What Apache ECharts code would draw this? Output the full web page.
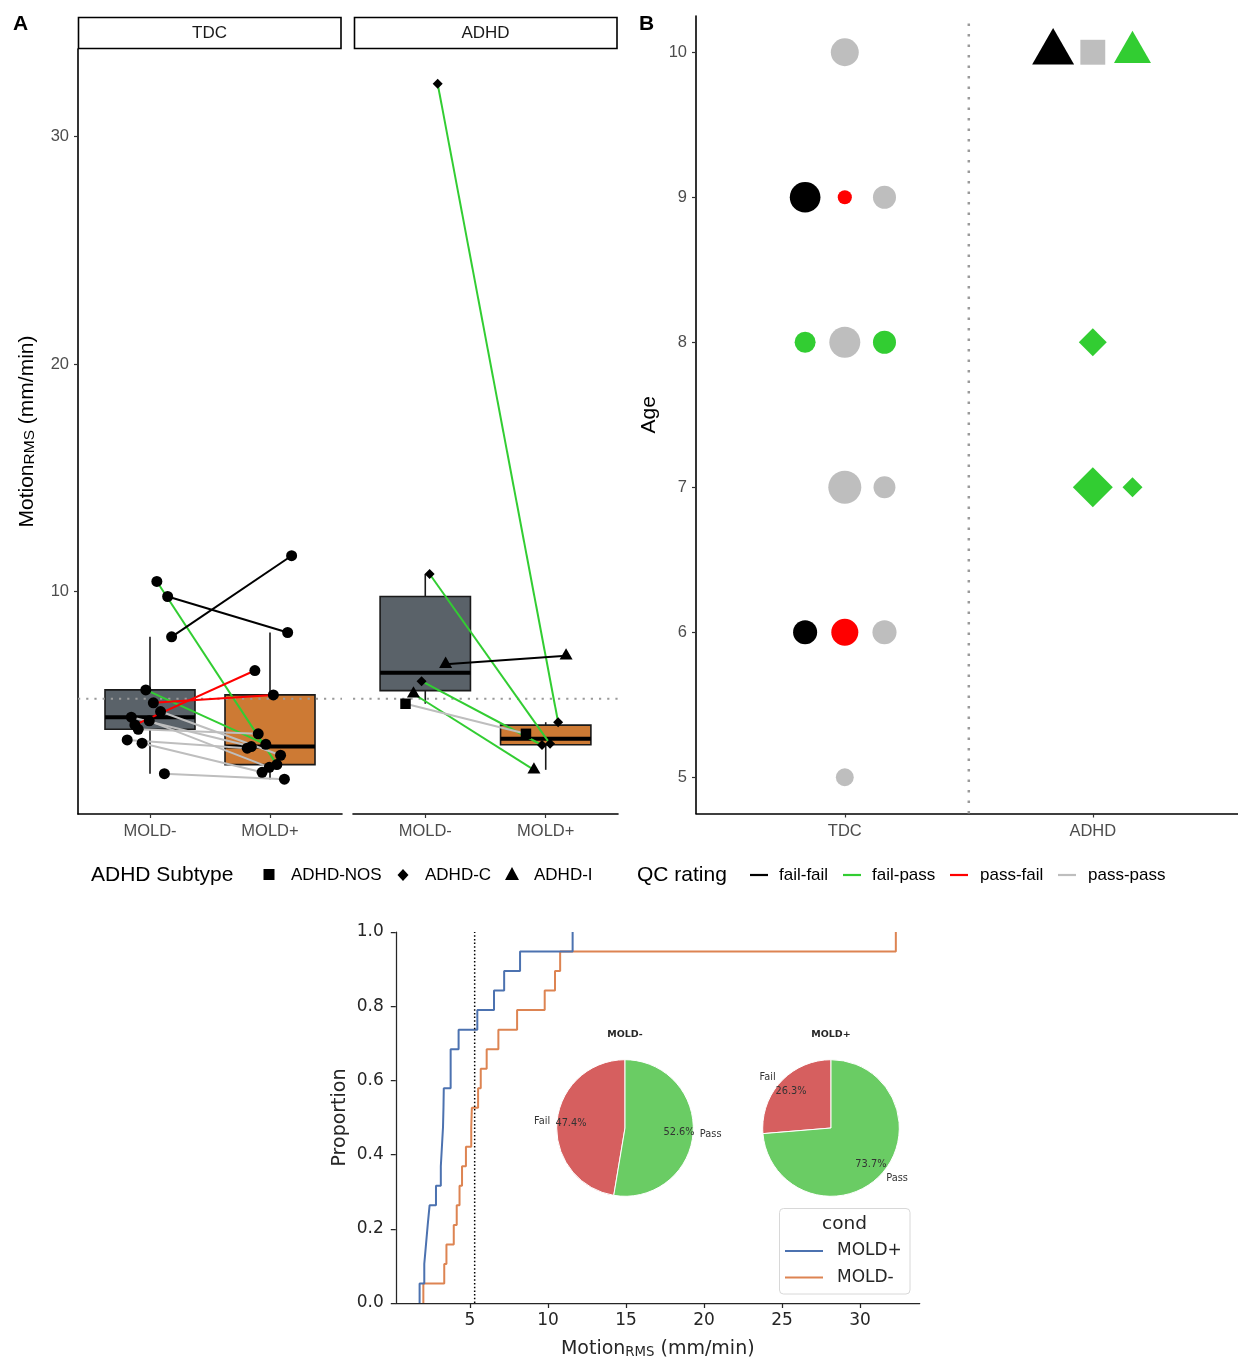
<!DOCTYPE html>
<html><head><meta charset="utf-8">
<script src="https://cdn.jsdelivr.net/npm/echarts@6/dist/echarts.min.js"></script>
<style>html,body{margin:0;padding:0;background:#fff}#c{width:1238px;height:1358px}</style>
</head><body><div id="c"></div>
<script>
// ---------------- data ----------------
const groups = ['TDC', 'ADHD'];
const conditions = ['MOLD-', 'MOLD+'];
const qcLevels = ['fail-fail', 'fail-pass', 'pass-fail', 'pass-pass'];
const subtypeLevels = ['ADHD-NOS', 'ADHD-C', 'ADHD-I'];
const threshold = 5.3;

// one entry per subject (panel A and ECDF/pies)
const subjGroup = ['TDC','TDC','TDC','TDC','TDC','TDC','TDC','TDC','TDC','TDC','TDC','TDC','TDC',
                   'ADHD','ADHD','ADHD','ADHD','ADHD','ADHD'];
const subjSubtype = [null,null,null,null,null,null,null,null,null,null,null,null,null,
                   'ADHD-C','ADHD-C','ADHD-I','ADHD-C','ADHD-I','ADHD-NOS'];
const motionMinus = [10.45, 9.79, 8.02, 5.69, 5.12, 4.74, 4.49, 4.33, 4.15, 3.96, 3.49, 3.35, 2.01,
                   32.3, 10.78, 6.82, 6.07, 5.52, 5.08];
const motionPlus  = [2.41, 8.21, 11.58, 3.30, 5.47, 2.82, 3.20, 2.29, 6.54, 3.76, 3.13, 2.07, 1.77,
                   4.27, 3.32, 7.19, 3.27, 2.18, 3.76];
const subjQC = ['fail-pass','fail-fail','fail-fail','fail-pass','pass-fail','pass-pass','pass-pass','pass-pass',
                'pass-fail','pass-pass','pass-pass','pass-pass','pass-pass',
                'fail-pass','fail-pass','fail-fail','fail-pass','fail-pass','pass-pass'];
const subjJitter = [0.057, 0.147, 0.18, -0.035, 0.028, 0.088, -0.156, -0.006, -0.126, -0.098, -0.19, -0.066, 0.12,
                    0.103, 0.036, 0.169, -0.031, -0.098, -0.164];

// panel B: age plot
const ageGroup   = ['TDC','TDC','TDC','TDC','TDC','TDC','TDC','TDC','TDC','TDC','TDC','TDC','TDC',
                    'ADHD','ADHD','ADHD','ADHD','ADHD','ADHD'];
const ageValue   = [10, 9, 9, 9, 8, 8, 8, 7, 7, 6, 6, 6, 5, 10, 10, 10, 8, 7, 7];
const ageQC      = ['pass-pass','fail-fail','pass-fail','pass-pass','fail-pass','pass-pass','fail-pass',
                    'pass-pass','pass-pass','fail-fail','pass-fail','pass-pass','pass-pass',
                    'fail-fail','pass-pass','fail-pass','fail-pass','fail-pass','fail-pass'];
const ageSubtype = [null,null,null,null,null,null,null,null,null,null,null,null,null,
                    'ADHD-I','ADHD-NOS','ADHD-I','ADHD-C','ADHD-C','ADHD-C'];
const ageDodge   = [0, -1, 0, 1, -1, 0, 1, 0, 1, -1, 0, 1, 0, -1, 0, 1, 0, 0, 1];
const ageWeight  = [7.8, 9.4, 2.0, 5.3, 4.4, 9.6, 5.3, 10.9, 4.8, 5.8, 7.3, 5.8, 3.2, 17.6, 6.2, 13.7, 7.8, 16.0, 4.0];

const ecdfConds = ['MOLD+', 'MOLD-'];

// ---------------- styles ----------------
const qcColor = {'fail-fail':'#000000','fail-pass':'#32CD32','pass-fail':'#FF0000','pass-pass':'#BEBEBE'};
const boxFill = ['#5a6269', '#cd7a34'];
const shapeOf = {'ADHD-NOS':'rect','ADHD-C':'diamond','ADHD-I':'triangle'};
const GG = '"Liberation Sans", Arial, sans-serif';
const MPL = '"DejaVu Sans", sans-serif';
const ecdfColor = {'MOLD+':'#4c72b0','MOLD-':'#dd8452'};

// ---------------- helpers ----------------
function q7(s, p){const h=(s.length-1)*p, lo=Math.floor(h); return lo+1<s.length ? s[lo]+(h-lo)*(s[lo+1]-s[lo]) : s[lo];}
function boxStats(vals){
  const s=[...vals].sort((a,b)=>a-b);
  const q1=q7(s,.25), med=q7(s,.5), q3=q7(s,.75), iqr=q3-q1;
  const lo=s.find(v=>v>=q1-1.5*iqr);
  const hi=[...s].reverse().find(v=>v<=q3+1.5*iqr);
  return [lo,q1,med,q3,hi];
}
function renderBox(params, api){
  const x=api.value(0), lo=api.value(1), q1=api.value(2), med=api.value(3), q3=api.value(4), hi=api.value(5);
  const half=0.375;
  const tl=api.coord([x-half,q3]), br=api.coord([x+half,q1]);
  const pLo=api.coord([x,lo]), pHi=api.coord([x,hi]);
  const mL=api.coord([x-half,med]), mR=api.coord([x+half,med]);
  return {type:'group', children:[
    {type:'line', shape:{x1:pHi[0],y1:pHi[1],x2:pHi[0],y2:tl[1]}, style:{stroke:'#1a1a1a',lineWidth:1.6}},
    {type:'line', shape:{x1:pLo[0],y1:br[1],x2:pLo[0],y2:pLo[1]}, style:{stroke:'#1a1a1a',lineWidth:1.6}},
    {type:'rect', shape:{x:tl[0],y:tl[1],width:br[0]-tl[0],height:br[1]-tl[1]}, style:{fill:boxFill[api.value(6)],stroke:'#1a1a1a',lineWidth:1.6}},
    {type:'line', shape:{x1:mL[0],y1:mL[1],x2:mR[0],y2:mR[1]}, style:{stroke:'#000',lineWidth:4}}
  ]};
}
function pointItem(x, y, subtype, size){
  if(!subtype) return {value:[x,y], symbol:'circle', symbolSize:size};
  const sh=shapeOf[subtype];
  if(sh==='triangle'){const w=size*1.3,h=w*0.87; return {value:[x,y], symbol:'triangle', symbolSize:[w,h], symbolOffset:[0,-h/6]};}
  if(sh==='rect') return {value:[x,y], symbol:'rect', symbolSize:size*1.05};
  return {value:[x,y], symbol:'diamond', symbolSize:size};
}

// ---------------- axes ----------------
const axLine = {show:true, lineStyle:{color:'#000', width:1.6}};
const ggTick = {show:true, length:4, lineStyle:{color:'#333', width:1.2}};
const yMinA = 0.24, yMaxA = 33.83;
const xAxes = [], yAxes = [], grids = [];
grids.push({left:78, top:49, width:264, height:765});
grids.push({left:353, top:49, width:265, height:765});
grids.push({left:696, top:16, width:545.6, height:797.5});
grids.push({left:395.8, top:932, width:523.9, height:371});
grids.forEach(g=>{g.containLabel=false; g.outerBoundsMode='none';});

for(let gi=0; gi<2; gi++){
  xAxes.push({gridIndex:gi, type:'value', min:0.4, max:2.6, axisLine:axLine,
    axisTick:Object.assign({customValues:[1,2]}, ggTick),
    axisLabel:{customValues:[1,2], formatter:v=>conditions[Math.round(v)-1], color:'#4d4d4d', fontSize:16.5, fontFamily:GG, margin:9},
    splitLine:{show:false}});
}
yAxes.push({gridIndex:0, type:'value', min:yMinA, max:yMaxA, axisLine:axLine,
  axisTick:Object.assign({customValues:[10,20,30]}, ggTick),
  axisLabel:{customValues:[10,20,30], color:'#4d4d4d', fontSize:16.5, fontFamily:GG, margin:9},
  splitLine:{show:false},
  name:'{m|Motion}{s|RMS}{m| (mm/min)}', nameLocation:'middle', nameGap:40,
  nameTextStyle:{rich:{m:{fontSize:21, fontFamily:GG, color:'#000', lineHeight:26, verticalAlign:'bottom'},
                       s:{fontSize:15.5, fontFamily:GG, color:'#000', lineHeight:12, verticalAlign:'bottom'}}}});
yAxes.push({gridIndex:1, type:'value', min:yMinA, max:yMaxA, axisLine:{show:false}, axisTick:{show:false}, axisLabel:{show:false}, splitLine:{show:false}});

xAxes.push({gridIndex:2, type:'value', min:0.4, max:2.6, axisLine:axLine,
  axisTick:Object.assign({customValues:[1,2]}, ggTick),
  axisLabel:{customValues:[1,2], formatter:v=>groups[Math.round(v)-1], color:'#4d4d4d', fontSize:16.5, fontFamily:GG, margin:9},
  splitLine:{show:false}});
yAxes.push({gridIndex:2, type:'value', min:4.75, max:10.25, axisLine:axLine,
  axisTick:Object.assign({customValues:[5,6,7,8,9,10]}, ggTick),
  axisLabel:{customValues:[5,6,7,8,9,10], color:'#4d4d4d', fontSize:16.5, fontFamily:GG, margin:9},
  splitLine:{show:false},
  name:'Age', nameLocation:'middle', nameGap:36, nameTextStyle:{fontSize:21, fontFamily:GG, color:'#000'}});

xAxes.push({gridIndex:3, type:'value', min:0.244, max:33.83,
  axisLine:{show:true, lineStyle:{color:'#262626', width:1.25}},
  axisTick:{show:true, customValues:[5,10,15,20,25,30], length:5, lineStyle:{color:'#262626', width:1.25}},
  axisLabel:{customValues:[5,10,15,20,25,30], color:'#262626', fontSize:17, fontFamily:MPL, margin:9},
  splitLine:{show:false},
  name:'{m|Motion}{s|RMS}{m| (mm/min)}', nameLocation:'middle', nameGap:33,
  nameTextStyle:{rich:{m:{fontSize:19, fontFamily:MPL, color:'#262626', lineHeight:23, verticalAlign:'bottom'},
                       s:{fontSize:13.3, fontFamily:MPL, color:'#262626', lineHeight:10, verticalAlign:'bottom'}}}});
yAxes.push({gridIndex:3, type:'value', min:0, max:1, interval:0.2,
  axisLine:{show:true, lineStyle:{color:'#262626', width:1.25}},
  axisTick:{show:true, length:5, lineStyle:{color:'#262626', width:1.25}},
  axisLabel:{formatter:v=>v.toFixed(1), color:'#262626', fontSize:17, fontFamily:MPL, margin:12},
  splitLine:{show:false},
  name:'Proportion', nameLocation:'middle', nameGap:46, nameTextStyle:{fontSize:19, fontFamily:MPL, color:'#262626'}});

// ---------------- series ----------------
const series = [];
for(let gi=0; gi<2; gi++){
  const idx = subjGroup.map((g,i)=>g===groups[gi]?i:-1).filter(i=>i>=0);
  const minusVals = idx.map(i=>motionMinus[i]), plusVals = idx.map(i=>motionPlus[i]);
  series.push({type:'custom', xAxisIndex:gi, yAxisIndex:gi, z:2, silent:true,
    renderItem:renderBox, encode:{x:0, y:[1,2,3,4,5]},
    data:[[1, ...boxStats(minusVals), 0], [2, ...boxStats(plusVals), 1]]});
  series.push({type:'line', xAxisIndex:gi, yAxisIndex:gi, z:3, silent:true, symbol:'none',
    data:[[0.4,threshold],[2.6,threshold]], lineStyle:{color:'#9a9a9a', width:2.2, type:[2.2,6]}});
  idx.forEach(i=>{
    series.push({type:'line', xAxisIndex:gi, yAxisIndex:gi, z:4, silent:true, symbol:'none',
      data:[[1+subjJitter[i], motionMinus[i]],[2+subjJitter[i], motionPlus[i]]],
      lineStyle:{color:qcColor[subjQC[i]], width:2}});
  });
  const pts=[];
  idx.forEach(i=>{
    pts.push(pointItem(1+subjJitter[i], motionMinus[i], subjSubtype[i], subjSubtype[i]?10:11));
    pts.push(pointItem(2+subjJitter[i], motionPlus[i], subjSubtype[i], subjSubtype[i]?10:11));
  });
  series.push({type:'scatter', xAxisIndex:gi, yAxisIndex:gi, z:5, silent:true, itemStyle:{color:'#000', opacity:1}, data:pts});
}

// panel B
series.push({type:'line', xAxisIndex:2, yAxisIndex:2, z:2, silent:true, symbol:'none',
  data:[[1.5,4.75],[1.5,10.25]], lineStyle:{color:'#9a9a9a', width:2.5, type:[2.5,8]}});
const bPts = ageValue.map((a,i)=>{
  const x = groups.indexOf(ageGroup[i]) + 1 + ageDodge[i]*0.16;
  const d = 10*Math.sqrt(ageWeight[i]);
  let item;
  if(!ageSubtype[i]) item={value:[x,a], symbol:'circle', symbolSize:d};
  else if(shapeOf[ageSubtype[i]]==='triangle'){const h=d*0.87; item={value:[x,a], symbol:'triangle', symbolSize:[d,h], symbolOffset:[0,-h/6]};}
  else if(shapeOf[ageSubtype[i]]==='rect') item={value:[x,a], symbol:'rect', symbolSize:d};
  else item={value:[x,a], symbol:'diamond', symbolSize:d};
  item.itemStyle={color:qcColor[ageQC[i]], opacity:1};
  return item;
});
series.push({type:'scatter', xAxisIndex:2, yAxisIndex:2, z:3, silent:true, itemStyle:{opacity:1}, data:bPts});

// ECDF
function ecdfPoints(vals){
  const s=[...vals].sort((a,b)=>a-b), n=s.length, pts=[[s[0],0]];
  s.forEach((v,i)=>{ if(i>0) pts.push([v,i/n]); pts.push([v,(i+1)/n]); });
  return pts;
}
const condVals = {'MOLD-':motionMinus, 'MOLD+':motionPlus};
['MOLD-','MOLD+'].forEach(c=>{
  series.push({type:'line', name:c, xAxisIndex:3, yAxisIndex:3, z:3, silent:true, symbol:'none',
    data:ecdfPoints(condVals[c]), lineStyle:{color:ecdfColor[c], width:2}});
});
series.push({type:'line', xAxisIndex:3, yAxisIndex:3, z:4, silent:true, symbol:'none',
  data:[[threshold,0],[threshold,1]], lineStyle:{color:'#000', width:1.5, type:[1.5,2.2]}});

// pies
const pieR = 68.3;
function pieSet(cx, cy, vals){
  const fail=vals.filter(v=>v>threshold).length, pass=vals.length-fail;
  const names=['Fail','Pass'], cols=['#d65f5f','#6acc64'], counts=[fail,pass];
  const base={type:'pie', center:[cx,cy], startAngle:90, clockwise:false, silent:true, animation:false, avoidLabelOverlap:false};
  const lblStyle={fontFamily:MPL, fontSize:9.8, color:'#333'};
  return [
    Object.assign({}, base, {radius:pieR, z:5,
      label:Object.assign({show:true, position:'outside', formatter:p=>p.name, distanceToLabelLine:0, alignTo:'none'}, lblStyle),
      labelLine:{show:false, length:pieR*0.1, length2:0},
      itemStyle:{borderColor:'#fff', borderWidth:1},
      data:names.map((n,k)=>({name:n, value:counts[k], itemStyle:{color:cols[k]}}))}),
    Object.assign({}, base, {radius:pieR*1.5, z:6, labelLine:{show:false},
      itemStyle:{color:'rgba(0,0,0,0)', borderWidth:0},
      label:Object.assign({show:true, position:'inside', formatter:p=>p.percent.toFixed(1)+'%'}, lblStyle),
      data:names.map((n,k)=>({name:n, value:counts[k]}))})
  ];
}
series.push(...pieSet(625, 1128, motionMinus));
series.push(...pieSet(831, 1128, motionPlus));

// ---------------- graphics (strips, legends, labels) ----------------
const G = [];
function txt(x,y,t,font,opts){G.push(Object.assign({type:'text', x, y, silent:true,
  style:Object.assign({text:t, font, fill:'#000', textVerticalAlign:'middle'}, opts||{})}));}
// panel tags
txt(13, 24, 'A', 'bold 21px '+GG);
txt(639, 24, 'B', 'bold 21px '+GG);
// facet strips
[[78.5,'TDC'],[354.5,'ADHD']].forEach(([x,t])=>{
  G.push({type:'rect', silent:true, shape:{x, y:17.5, width:262.5, height:31}, style:{fill:'#fff', stroke:'#000', lineWidth:1.6}});
  txt(x+131, 33.5, t, '17px '+GG, {textAlign:'center', fill:'#1a1a1a'});
});
// ggplot legends
const legY = 875;
txt(91, legY, 'ADHD Subtype', '21px '+GG);
G.push({type:'rect', silent:true, shape:{x:263.5, y:legY-6, width:11, height:11}, style:{fill:'#000'}});
txt(291, legY, subtypeLevels[0], '17px '+GG);
G.push({type:'polygon', silent:true, shape:{points:[[403,legY-6],[408.5,legY],[403,legY+6],[397.5,legY]]}, style:{fill:'#000'}});
txt(425, legY, subtypeLevels[1], '17px '+GG);
G.push({type:'polygon', silent:true, shape:{points:[[512,legY-8],[519,legY+5],[505,legY+5]]}, style:{fill:'#000'}});
txt(534, legY, subtypeLevels[2], '17px '+GG);
txt(637, legY, 'QC rating', '21px '+GG);
[[750,779],[843,872],[950,980],[1058,1088]].forEach(([lx,tx],k)=>{
  G.push({type:'line', silent:true, shape:{x1:lx,y1:legY,x2:lx+18,y2:legY}, style:{stroke:qcColor[qcLevels[k]], lineWidth:2.2}});
  txt(tx, legY, qcLevels[k], '17px '+GG);
});
// pie titles
txt(625, 1035, 'MOLD-', 'bold 9.5px '+MPL, {textAlign:'center', fill:'#262626'});
txt(831, 1035, 'MOLD+', 'bold 9.5px '+MPL, {textAlign:'center', fill:'#262626'});
// ECDF legend
G.push({type:'rect', silent:true, shape:{x:779.5, y:1208.5, width:130.5, height:85.5, r:4}, style:{fill:'rgba(255,255,255,0.8)', stroke:'#d8d8d8', lineWidth:1}});
txt(844.5, 1224, 'cond', '18.5px '+MPL, {textAlign:'center', fill:'#262626'});
ecdfConds.forEach((c,k)=>{
  const y = 1251 + k*26.5;
  G.push({type:'line', silent:true, shape:{x1:785,y1:y,x2:823,y2:y}, style:{stroke:ecdfColor[c], lineWidth:2}});
  txt(837, y, c, '17px '+MPL, {fill:'#262626'});
});

const chart = echarts.init(document.getElementById('c'), null, {renderer:'canvas'});
chart.setOption({animation:false, backgroundColor:'#fff', grid:grids, xAxis:xAxes, yAxis:yAxes, series, graphic:G});
</script></body></html>
